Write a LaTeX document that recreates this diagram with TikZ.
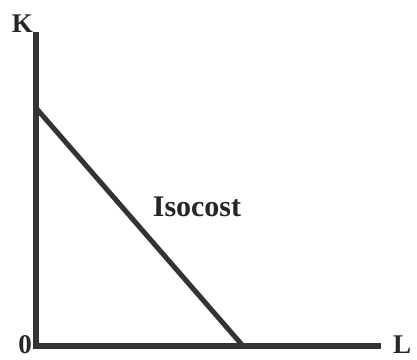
\documentclass[tikz,border=0pt]{standalone}
\usepackage{fontspec}
\setmainfont{Liberation Serif}
\usetikzlibrary{positioning}

\begin{document}
\begin{tikzpicture}[
  x=1pt, y=-1pt,
  axis/.style={line width=6pt, draw=black!80},
  budget/.style={line width=5pt, draw=black!80},
  lbl/.style={font=\bfseries\fontsize{27}{27}\selectfont, text=black!85, inner sep=0pt},
]
\useasboundingbox (0,0) rectangle (417,359);
\coordinate (origin) at (36,346);
\coordinate (ktop) at (36,32);
\coordinate (lend) at (381,346);
\coordinate (kint) at (36,108);
\coordinate (lint) at (243,346);

\draw[axis] (ktop) -- (origin) -- (lend);
\draw[budget, line cap=round] (kint) -- (lint);

\node[lbl, anchor=south east] (k) at (33,33) {K};
\node[lbl, anchor=east] (zero) at (32,345) {0};
\node[lbl, anchor=west] (l) at (393,345) {L};
\node[lbl, font=\bfseries\fontsize{30}{30}\selectfont] (iso) at (197,207) {Isocost};
\end{tikzpicture}
\end{document}
